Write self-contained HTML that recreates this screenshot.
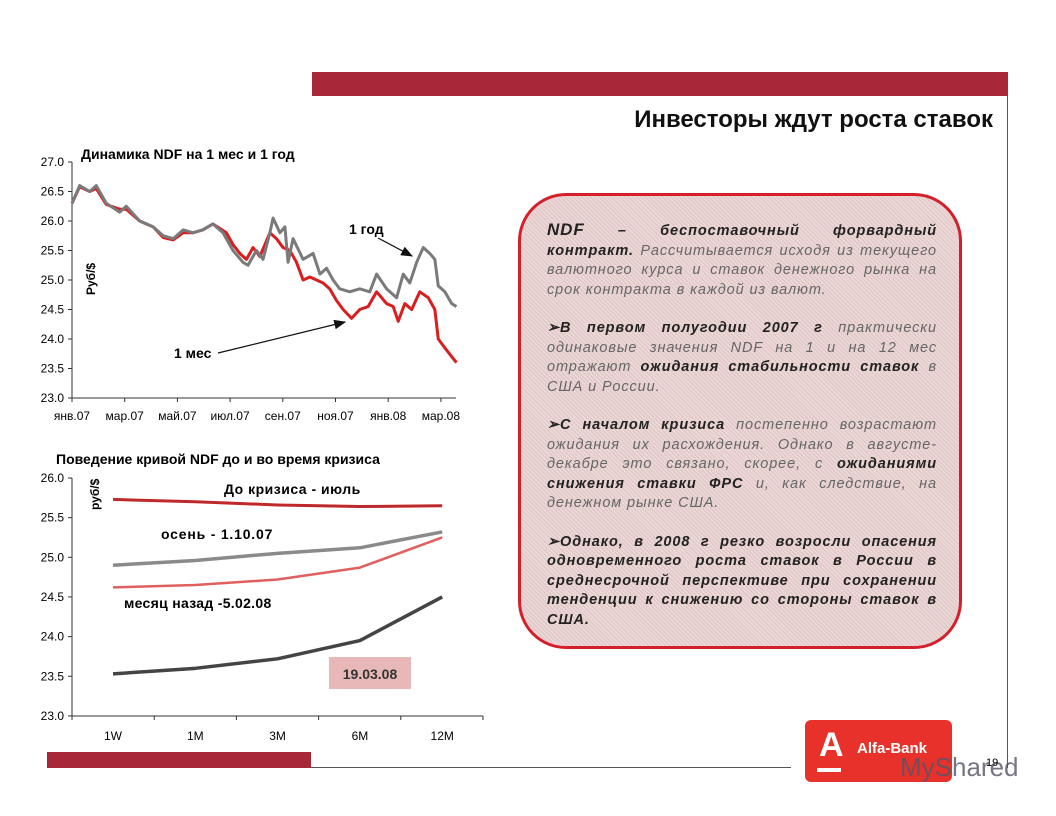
<!DOCTYPE html>
<html><head><meta charset="utf-8"><style>
body{margin:0;width:1056px;height:816px;background:#fff;position:relative;overflow:hidden;font-family:"Liberation Sans","Noto Sans CJK SC",sans-serif}
.abs{position:absolute}
.box{left:518px;top:193px;width:438px;height:450px;border:3px solid #d4202a;border-radius:48px;background-color:#ecd6d6;background-image:repeating-linear-gradient(45deg,rgba(150,120,120,.18) 0 1px,transparent 1px 3px)}
.txt{left:547px;top:220px;width:390px;font-size:14.5px;letter-spacing:0.9px;line-height:19.5px;text-align:justify;font-style:italic;color:#666}
.txt b{color:#222}
.txt p{margin:0 0 19px 0}
</style></head><body>
<div class="abs" style="left:312px;top:72px;width:696px;height:24px;background:#a8283a"></div>
<div class="abs" style="left:1007px;top:96px;width:1px;height:672px;background:#555"></div>
<div class="abs" style="left:540px;top:106px;width:453px;text-align:right;font-size:24px;font-weight:bold;color:#111">Инвесторы ждут роста ставок</div>
<div class="abs" style="left:47px;top:752px;width:264px;height:16px;background:#a8283a"></div>
<div class="abs" style="left:311px;top:767px;width:480px;height:1px;background:#555"></div>
<div class="abs" style="left:805px;top:720px;width:147px;height:62px;background:#e8312a;border-radius:6px;color:#fff">
<div style="position:absolute;left:14px;top:6px;font-size:34px;font-weight:bold">A</div>
<div style="position:absolute;left:12px;top:48px;width:24px;height:4px;background:#fff"></div>
<div style="position:absolute;left:52px;top:20px;font-size:15px;font-weight:bold">Alfa-Bank</div></div>
<div class="abs" style="left:900px;top:752px;font-size:26px;color:#556;opacity:.8">MyShared</div>
<div class="abs" style="left:986px;top:757px;font-size:11px">19</div>

<div class="abs box"></div>
<div class="abs txt">
<p><b style="font-size:17px">NDF</b> <b>– беспоставочный форвардный контракт.</b> Рассчитывается исходя из текущего валютного курса и ставок денежного рынка на срок контракта в каждой из валют.</p>
<p><b>➢В первом полугодии 2007 г</b> практически одинаковые значения NDF на 1 и на 12 мес отражают <b>ожидания стабильности ставок</b> в США и России.</p>
<p><b>➢С началом кризиса</b> постепенно возрастают ожидания их расхождения. Однако в августе-декабре это связано, скорее, с <b>ожиданиями снижения ставки ФРС</b> и, как следствие, на денежном рынке США.</p>
<p style="margin:0"><b>➢Однако, в 2008 г резко возросли опасения одновременного роста ставок в России в среднесрочной перспективе при сохранении тенденции к снижению со стороны ставок в США.</b></p>
</div>

<svg class="abs" style="left:0;top:0" width="1056" height="816">
<g id="c1" font-family="Liberation Sans, sans-serif"></g>
<g id="c2" font-family="Liberation Sans, sans-serif"></g>
</svg>
<script>
// Chart 1 data
const c1Months=["янв.07","мар.07","май.07","июл.07","сен.07","ноя.07","янв.08","мар.08"];
const c1YTicks=[23.0,23.5,24.0,24.5,25.0,25.5,26.0,26.5,27.0];
const yearT=[0,0.29,0.67,0.92,1.3,1.81,2.06,2.57,3.08,3.46,3.84,4.22,4.59,4.97,5.35,5.73,6.11,6.49,6.68,7.0,7.25,7.51,7.63,7.89,8.08,8.2,8.39,8.77,9.15,9.41,9.66,9.91,10.16,10.54,10.92,11.3,11.56,11.94,12.32,12.57,12.82,13.08,13.33,13.58,13.77,13.9,14.15,14.41,14.59];
const yearV=[26.3,26.6,26.5,26.6,26.3,26.15,26.25,26.0,25.9,25.75,25.7,25.85,25.8,25.85,25.95,25.8,25.5,25.3,25.25,25.5,25.35,25.8,26.05,25.8,25.9,25.3,25.7,25.35,25.45,25.1,25.2,25.0,24.85,24.8,24.85,24.8,25.1,24.85,24.7,25.1,24.95,25.3,25.55,25.45,25.35,24.9,24.8,24.6,24.55];
const monthT=[0,0.29,0.67,0.92,1.3,1.81,2.06,2.57,3.08,3.46,3.84,4.22,4.59,4.97,5.35,5.86,6.11,6.37,6.62,6.87,7.13,7.51,7.76,8.01,8.27,8.52,8.77,9.03,9.28,9.53,9.78,10.04,10.29,10.61,10.92,11.24,11.56,11.94,12.19,12.38,12.63,12.89,13.2,13.52,13.77,13.9,14.15,14.41,14.59];
const monthV=[26.3,26.58,26.5,26.55,26.28,26.2,26.2,26.0,25.9,25.72,25.68,25.8,25.8,25.85,25.95,25.8,25.6,25.45,25.35,25.55,25.4,25.8,25.7,25.55,25.5,25.3,25.0,25.05,25.0,24.95,24.85,24.65,24.5,24.35,24.5,24.55,24.8,24.6,24.55,24.3,24.6,24.5,24.8,24.7,24.5,24.0,23.85,23.7,23.6];
// Chart 2 data
const c2Cats=["1W","1M","3M","6M","12M"];
const c2YTicks=[23.0,23.5,24.0,24.5,25.0,25.5,26.0];
const julyV=[25.73,25.70,25.66,25.64,25.65];
const autumnV=[24.9,24.96,25.05,25.12,25.32];
const febV=[24.62,24.65,24.72,24.87,25.25];
const marV=[23.53,23.6,23.72,23.95,24.5];

const NS="http://www.w3.org/2000/svg";
function mk(p,t,a,txt){const e=document.createElementNS(NS,t);for(const k in a)e.setAttribute(k,a[k]);if(txt!==undefined)e.textContent=txt;p.appendChild(e);return e;}
const g1=document.getElementById('c1'),g2=document.getElementById('c2');
const x1=m=>72+m*26.35, y1=v=>162+(27-v)*59;
let e=mk(g1,'line',{x1:72,y1:162,x2:72,y2:398,stroke:'#333'});


e=mk(g1,'line',{x1:72,y1:398,x2:456,y2:398,stroke:'#333'});


c1YTicks.forEach(v=>{mk(g1,'line',{x1:68,x2:72,y1:y1(v),y2:y1(v),stroke:'#333'});
 const t=mk(g1,'text',{x:64,y:y1(v)+4,'text-anchor':'end','font-size':12},v.toFixed(1));
 
 });
c1Months.forEach((m,i)=>{const x=x1(i*2);mk(g1,'line',{x1:x,x2:x,y1:398,y2:402,stroke:'#333'});
 const t=mk(g1,'text',{x:x,y:420,'text-anchor':'middle','font-size':12},m);
 
 });
function poly(g,T,V,xf,yf,col,w,name){const p=mk(g,'polyline',{points:T.map((t,i)=>xf(t)+','+yf(V[i])).join(' '),fill:'none',stroke:col,'stroke-width':w,'stroke-linejoin':'round'});
 
 }
poly(g1,monthT,monthV,x1,y1,'#d81e1e',3,'ndf-1m-line');
poly(g1,yearT,yearV,x1,y1,'#7a7a7a',3,'ndf-1y-line');
e=mk(g1,'text',{x:81,y:159,'font-size':14,'font-weight':'bold'},'Динамика NDF на 1 мес и 1 год');


e=mk(g1,'text',{x:0,y:0,'font-size':12,'font-weight':'bold',transform:'translate(95,295) rotate(-90)'},'Руб/$');


mk(g1,'defs',{}).innerHTML='<marker id="ah" markerWidth="10" markerHeight="8" refX="9" refY="4" orient="auto"><path d="M0,0 L10,4 L0,8 z" fill="#111"/></marker>';
e=mk(g1,'text',{x:349,y:234,'font-size':14,'font-weight':'bold'},'1 год');


mk(g1,'line',{x1:378,y1:238,x2:412,y2:256,stroke:'#111','stroke-width':1.2,'marker-end':'url(#ah)'});
e=mk(g1,'text',{x:174,y:358,'font-size':14,'font-weight':'bold'},'1 мес');


mk(g1,'line',{x1:218,y1:353,x2:345,y2:322,stroke:'#111','stroke-width':1.2,'marker-end':'url(#ah)'});

const x2=i=>113+i*82.3, y2=v=>478+(26-v)*79.3;
e=mk(g2,'line',{x1:72,y1:478,x2:72,y2:716,stroke:'#333'});


e=mk(g2,'line',{x1:72,y1:716,x2:483,y2:716,stroke:'#333'});


c2YTicks.forEach(v=>{mk(g2,'line',{x1:68,x2:72,y1:y2(v),y2:y2(v),stroke:'#333'});
 const t=mk(g2,'text',{x:64,y:y2(v)+4,'text-anchor':'end','font-size':12},v.toFixed(1));
 
 });
for(let i=0;i<=5;i++){const x=72+i*82.2;mk(g2,'line',{x1:x,x2:x,y1:716,y2:720,stroke:'#333'});}
c2Cats.forEach((c,i)=>{const t=mk(g2,'text',{x:x2(i),y:740,'text-anchor':'middle','font-size':12},c);
 
 });
const idx=[0,1,2,3,4];
poly(g2,idx,julyV,x2,y2,'#c0282a',3,'curve-july');
poly(g2,idx,autumnV,x2,y2,'#8a8a8a',3.5,'curve-autumn');
poly(g2,idx,febV,x2,y2,'#e06060',2.5,'curve-feb');
poly(g2,idx,marV,x2,y2,'#444',3.5,'curve-march');
e=mk(g2,'text',{x:56,y:464,'font-size':14,'font-weight':'bold'},'Поведение кривой NDF до и во время кризиса');


e=mk(g2,'text',{x:0,y:0,'font-size':12,'font-weight':'bold',transform:'translate(99,510) rotate(-90)'},'руб/$');


e=mk(g2,'text',{x:224,y:494,'font-size':14,'font-weight':'bold','letter-spacing':'0.5'},'До кризиса - июль');


e=mk(g2,'text',{x:161,y:539,'font-size':14,'font-weight':'bold','letter-spacing':'0.8'},'осень - 1.10.07');


e=mk(g2,'text',{x:124,y:608,'font-size':14,'font-weight':'bold','letter-spacing':'0.3'},'месяц назад -5.02.08');


mk(g2,'rect',{x:329,y:657,width:82,height:32,fill:'#e8b8b8'});
e=mk(g2,'text',{x:370,y:679,'text-anchor':'middle','font-size':14,'font-weight':'bold',fill:'#333'},'19.03.08');


</script>
</body></html>
